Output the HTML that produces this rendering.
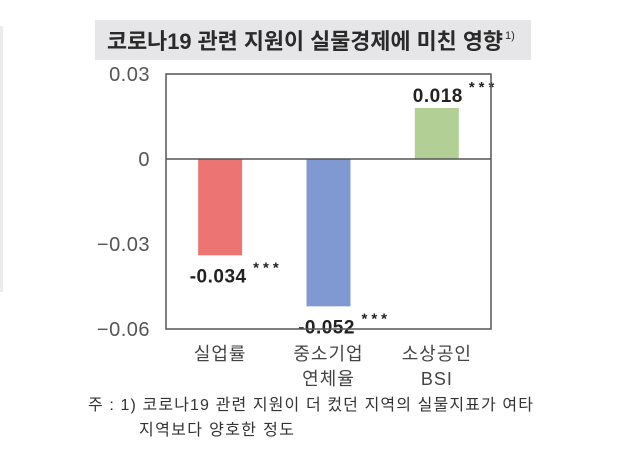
<!DOCTYPE html>
<html><head><meta charset="utf-8"><style>
body{margin:0;background:#fff;width:626px;height:448px;overflow:hidden;font-family:"Liberation Sans","Noto Sans CJK KR",sans-serif;}
</style></head><body>
<svg width="626" height="448" xmlns="http://www.w3.org/2000/svg" font-family="Liberation Sans, Noto Sans CJK KR, sans-serif">
<rect x="0" y="26" width="3" height="266" fill="#ececef"/>
<rect x="95" y="20" width="436" height="40" fill="#e6e6e8"/>
<text x="107" y="49" font-size="22" font-weight="bold" fill="#2a2a2a" textLength="396" lengthAdjust="spacingAndGlyphs">코로나19 관련 지원이 실물경제에 미친 영향</text>
<text x="505" y="39" font-size="11" fill="#2a2a2a">1)</text>
<g id="plot"></g>
<text x="88" y="410" font-size="16" fill="#333" textLength="445" lengthAdjust="spacing">주 : 1) 코로나19 관련 지원이 더 컸던 지역의 실물지표가 여타</text>
<text x="139" y="435" font-size="16" fill="#333" textLength="155" lengthAdjust="spacing">지역보다 양호한 정도</text>
</svg>
<script>
const categories=[["실업률"],["중소기업","연체율"],["소상공인","BSI"]];
const values=[-0.034,-0.052,0.018];
const labels=["-0.034","-0.052","0.018"];
const colors=["#ec7472","#8199d3","#b2d096"];
const ticks=[0.03,0,-0.03,-0.06];
const tickLabels=["0.03","0","\u22120.03","\u22120.06"];
const NS="http://www.w3.org/2000/svg";
const g=document.getElementById('plot');
const L=166,R=491,T=74,B=329;
const y=v=>159-(v/0.03)*85;
const x=i=>L+(i+0.5)*(R-L)/3;
function mk(t,a){const e=document.createElementNS(NS,t);for(const k in a)e.setAttribute(k,a[k]);g.appendChild(e);return e;}
ticks.forEach((t,i)=>{const e=mk('text',{x:150,y:y(t)+7,'font-size':20,fill:'#555','text-anchor':'end','letter-spacing':'0.5'});e.textContent=tickLabels[i];

});
values.forEach((v,i)=>{
const cx=x(i);
const r=mk('rect',{x:cx-22,y:Math.min(y(v),y(0)),width:44,height:Math.abs(y(v)-y(0)),fill:colors[i]});


const ly=v<0?y(v)+27:y(v)-6;
const lx=v<0?cx-2:cx+1;
const t=mk('text',{x:lx,y:ly,'font-size':19,'font-weight':'bold',fill:'#222','text-anchor':'middle','letter-spacing':'0.5'});t.textContent=labels[i];


const s=mk('text',{x:lx+(v<0?35:31),y:ly-10,'font-size':15,'font-weight':'bold',fill:'#222','letter-spacing':'4'});s.textContent="***";


categories[i].forEach((c,j)=>{const ct=mk('text',{x:cx,y:360+j*25,'font-size':18,fill:'#444','text-anchor':'middle','letter-spacing':'1'});ct.textContent=c;

});
});
const z=mk('line',{x1:L,x2:R,y1:y(0),y2:y(0),stroke:'#555','stroke-width':1.5});


const f=mk('rect',{x:L,y:T,width:R-L,height:B-T,fill:'none',stroke:'#555','stroke-width':1.5});


</script>
</body></html>
